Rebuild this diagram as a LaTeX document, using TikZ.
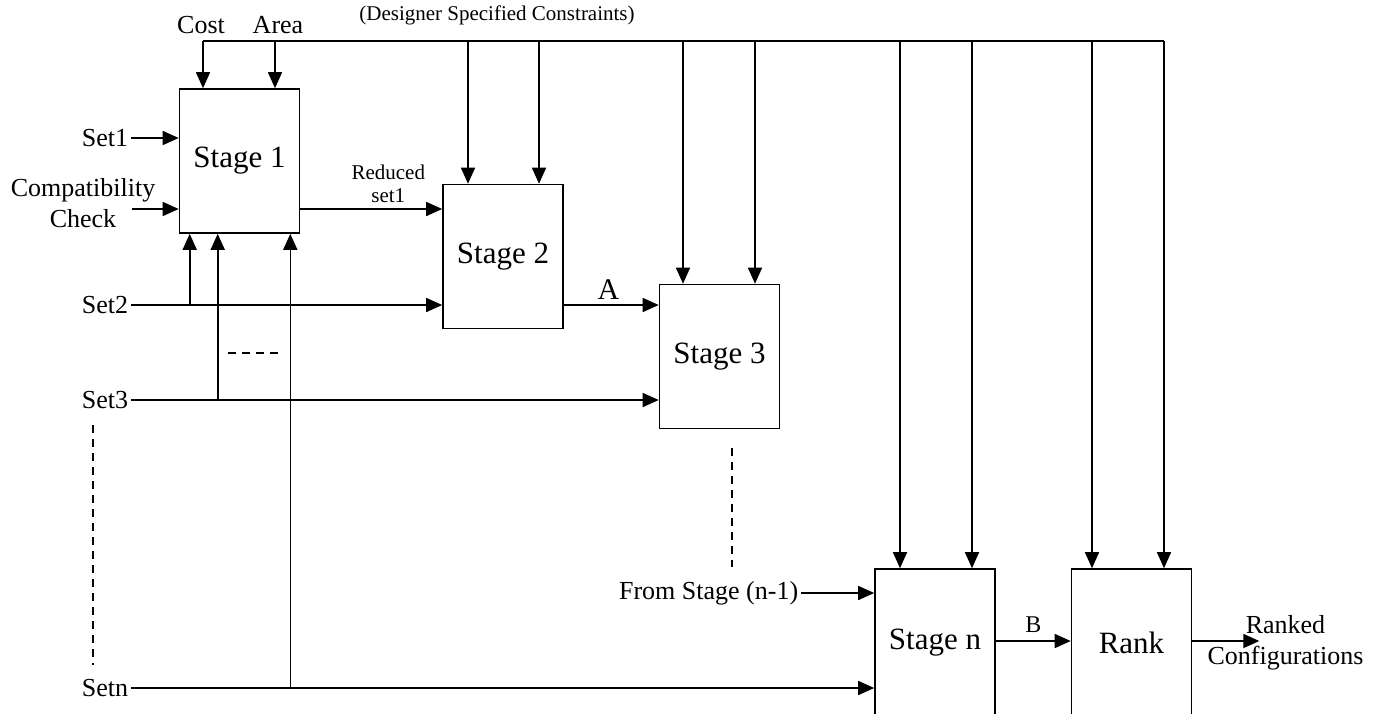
\documentclass[tikz,border=0pt]{standalone}
\usepackage{fontspec}
\setmainfont{Liberation Serif}
\usetikzlibrary{positioning,arrows.meta,calc}
\begin{document}
\begin{tikzpicture}[x=1pt,y=-1pt,line width=1.6pt,
  stagebox/.style={draw,minimum width=120pt,minimum height=144pt,inner sep=0pt,font=\fontsize{31}{33}\selectfont},
  lbl/.style={font=\fontsize{26}{31}\selectfont,inner sep=1pt,align=center},
  petit/.style={font=\fontsize{21}{23}\selectfont,inner sep=1pt,align=center},
  fleche/.style={-{Triangle[length=16pt,width=14pt]}},
  pointille/.style={line width=1.3pt,dash pattern=on 8pt off 6pt}]
\useasboundingbox (0,0) rectangle (1383,713);
\node[stagebox] (s1) at (239.5,161) {Stage 1};
\node[stagebox] (s2) at (503,256.5) {Stage 2};
\node[stagebox] (s3) at (719.5,356.5) {Stage 3};
\node[stagebox,minimum height=148pt] (sn) at (935,643) {Stage n};
\node[stagebox,minimum height=148pt] (rank) at (1131.5,643) {Rank};
\foreach \x [count=\i] in {203,275,468,539,683,755,900,972,1092,1164}
  \coordinate (c\i) at (\x,41);
\draw (c1) -- (c10);
\foreach \i/\b in {1/s1,2/s1,3/s2,4/s2,5/s3,6/s3,7/sn,8/sn,9/rank,10/rank}
  \draw[fleche] (c\i) -- (c\i |- \b.north);
\node[lbl,above=5pt of c1,xshift=-2pt] (cost) {Cost};
\node[lbl,above=5pt of c2,xshift=3pt] (area) {Area};
\node[petit] (dsc) at (497,15.5) {(Designer Specified Constraints)};
\node[lbl,inner sep=2pt,anchor=east] (set1) at (131,138) {Set1};
\node[lbl] (compat) at (83,203) {Compatibility\\Check};
\node[lbl,inner sep=2pt,anchor=east] (set2) at (131,305) {Set2};
\node[lbl,inner sep=2pt,anchor=east] (set3) at (131,400) {Set3};
\node[lbl,inner sep=2pt,anchor=east] (setn) at (131,688) {Setn};
\node[lbl,inner sep=2pt,anchor=east] (from) at (801,593) {From Stage (n-1)};
\node[lbl] (ranked) at (1285.5,643) {Ranked\\Configurations};
\coordinate (cin) at (132,209);
\coordinate (r0) at ([yshift=-48pt]s1.east);
\coordinate (a0) at ([yshift=-48.5pt]s2.east);
\coordinate (fa) at ([xshift=11pt]s1.south west);
\coordinate (fb) at ([xshift=39pt]s1.south west);
\coordinate (fc) at ([xshift=-10pt]s1.south east);
\coordinate (out) at ([xshift=67pt,yshift=2pt]rank.east);
\draw[fleche] (set1.east) -- (set1 -| s1.west);
\draw[fleche] (cin) -- (cin -| s1.west);
\draw[fleche] (r0) -- node[petit,above=5pt,pos=.62]{Reduced\\set1} (r0 -| s2.west);
\draw[fleche] (set2.east) -- (set2 -| s2.west);
\draw[fleche] (set3.east) -- (set3 -| s3.west);
\draw[fleche] (setn.east) -- (setn -| sn.west);
\draw[fleche] (fa |- set2) -- (fa);
\draw[fleche] (fb |- set3) -- (fb);
\draw[fleche] (fc |- setn) -- (fc);
\draw[fleche] (a0) -- node[font=\fontsize{30}{32}\selectfont,inner sep=1pt,above=4pt,pos=.47]{A} (a0 -| s3.west);
\draw[fleche] (from.east) -- (from -| sn.west);
\draw[fleche] ([yshift=2pt]sn.east) -- node[font=\fontsize{24}{26}\selectfont,inner sep=1pt,above=7pt]{B} ([yshift=2pt]rank.west);
\draw[fleche] ([yshift=2pt]rank.east) -- (out);
\draw[pointille] (228,353) -- (278,353);
\draw[pointille] (93,425) -- (93,665);
\draw[pointille] (732,448) -- (732,567);
\end{tikzpicture}
\end{document}
